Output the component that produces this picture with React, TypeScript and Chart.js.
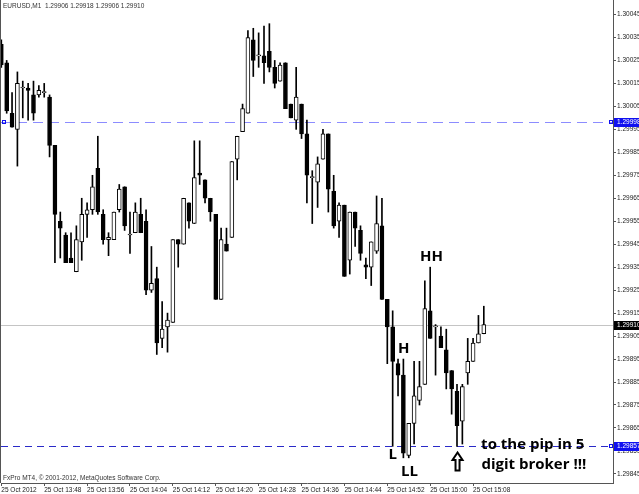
import React, { useEffect, useRef } from 'react';
import { Chart, registerables } from 'chart.js';

Chart.register(...registerables);

// EURUSD M1 candles, 25 Oct 2012 13:40 ... 15:10 (one per minute)
const opens = [
  1.30032, 1.30024, 1.30002, 1.29995, 1.30013, 1.30013, 1.30010, 1.30010, 1.30011, 1.30009,
  1.29988, 1.29955, 1.29949, 1.29939, 1.29933, 1.29946, 1.29958, 1.29960, 1.29978, 1.29958,
  1.29947, 1.29947, 1.29960, 1.29970, 1.29949, 1.29950, 1.29958, 1.29955, 1.29925, 1.29930,
  1.29904, 1.29909, 1.29911, 1.29947, 1.29945, 1.29963, 1.29954, 1.29976, 1.29973, 1.29965,
  1.29958, 1.29921, 1.29945, 1.29948, 1.29982, 1.29994, 1.30002, 1.30034, 1.30027, 1.30027,
  1.30029, 1.30022, 1.30016, 1.30024, 1.30006, 1.29999, 1.30006, 1.29993, 1.29974, 1.29972,
  1.29982, 1.29993, 1.29968, 1.29955, 1.29962, 1.29938, 1.29959, 1.29951, 1.29936, 1.29935,
  1.29942, 1.29953, 1.29921, 1.29909, 1.29893, 1.29888, 1.29853, 1.29867, 1.29877, 1.29884,
  1.29916, 1.29909, 1.29905, 1.29899, 1.29890, 1.29881, 1.29868, 1.29889, 1.29894, 1.29902,
  1.29906,
];
const highs = [
  1.30034, 1.30025, 1.30011, 1.30020, 1.30016, 1.30015, 1.30016, 1.30014, 1.30015, 1.30010,
  1.29988, 1.29959, 1.29950, 1.29950, 1.29953, 1.29965, 1.29963, 1.29975, 1.29992, 1.29960,
  1.29950, 1.29959, 1.29971, 1.29970, 1.29959, 1.29963, 1.29965, 1.29960, 1.29944, 1.29935,
  1.29920, 1.29915, 1.29947, 1.29947, 1.29965, 1.29963, 1.29990, 1.29990, 1.29973, 1.29965,
  1.29958, 1.29952, 1.29952, 1.29981, 1.29992, 1.30006, 1.30038, 1.30039, 1.30037, 1.30040,
  1.30041, 1.30025, 1.30024, 1.30024, 1.30006, 1.30022, 1.30006, 1.29999, 1.29977, 1.29983,
  1.29995, 1.29993, 1.29975, 1.29963, 1.29962, 1.29959, 1.29959, 1.29953, 1.29939, 1.29946,
  1.29966, 1.29965, 1.29921, 1.29916, 1.29895, 1.29895, 1.29867, 1.29894, 1.29894, 1.29929,
  1.29935, 1.29910, 1.29909, 1.29908, 1.29890, 1.29884, 1.29884, 1.29904, 1.29904, 1.29914,
  1.29918,
];
const lows = [
  1.30022, 1.30002, 1.29996, 1.29979, 1.30000, 1.29999, 1.29999, 1.30009, 1.30009, 1.29983,
  1.29937, 1.29939, 1.29937, 1.29937, 1.29933, 1.29938, 1.29948, 1.29958, 1.29958, 1.29945,
  1.29940, 1.29947, 1.29959, 1.29951, 1.29941, 1.29950, 1.29950, 1.29923, 1.29924, 1.29897,
  1.29900, 1.29898, 1.29911, 1.29935, 1.29945, 1.29952, 1.29954, 1.29971, 1.29963, 1.29955,
  1.29921, 1.29921, 1.29942, 1.29948, 1.29973, 1.29994, 1.30002, 1.30018, 1.30022, 1.30015,
  1.30020, 1.30013, 1.30016, 1.30004, 1.30000, 1.29995, 1.29991, 1.29963, 1.29954, 1.29961,
  1.29982, 1.29959, 1.29952, 1.29948, 1.29931, 1.29932, 1.29944, 1.29938, 1.29930, 1.29927,
  1.29941, 1.29921, 1.29893, 1.29857, 1.29879, 1.29852, 1.29852, 1.29858, 1.29875, 1.29884,
  1.29904, 1.29888, 1.29900, 1.29882, 1.29871, 1.29857, 1.29858, 1.29884, 1.29894, 1.29902,
  1.29906,
];
const closes = [
  1.30023, 1.30003, 1.29996, 1.30015, 1.30013, 1.30012, 1.30002, 1.30012, 1.30011, 1.29988,
  1.29958, 1.29952, 1.29937, 1.29937, 1.29947, 1.29958, 1.29960, 1.29970, 1.29959, 1.29947,
  1.29948, 1.29959, 1.29969, 1.29953, 1.29949, 1.29959, 1.29950, 1.29925, 1.29928, 1.29902,
  1.29908, 1.29912, 1.29947, 1.29945, 1.29965, 1.29955, 1.29974, 1.29975, 1.29965, 1.29959,
  1.29921, 1.29947, 1.29942, 1.29981, 1.29992, 1.30004, 1.30035, 1.30025, 1.30027, 1.30024,
  1.30022, 1.30015, 1.30023, 1.30004, 1.30000, 1.30009, 1.29993, 1.29975, 1.29974, 1.29980,
  1.29993, 1.29969, 1.29953, 1.29962, 1.29931, 1.29959, 1.29952, 1.29941, 1.29935, 1.29946,
  1.29954, 1.29921, 1.29909, 1.29894, 1.29888, 1.29854, 1.29867, 1.29879, 1.29883, 1.29917,
  1.29904, 1.29909, 1.29900, 1.29889, 1.29882, 1.29866, 1.29883, 1.29894, 1.29902, 1.29906,
  1.29910,
];

const xTickIdx = [0, 8, 16, 24, 32, 40, 48, 56, 64, 72, 80, 88];
const xTickLabels = [
  '25 Oct 2012', '25 Oct 13:48', '25 Oct 13:56', '25 Oct 14:04', '25 Oct 14:12', '25 Oct 14:20',
  '25 Oct 14:28', '25 Oct 14:36', '25 Oct 14:44', '25 Oct 14:52', '25 Oct 15:00', '25 Oct 15:08',
];
const yTicks = [
  1.29845, 1.29855, 1.29865, 1.29875, 1.29885, 1.29895, 1.29905, 1.29915, 1.29925, 1.29935, 1.29945,
  1.29955, 1.29965, 1.29975, 1.29985, 1.29995, 1.30005, 1.30015, 1.30025, 1.30035, 1.30045,
];

const X_MIN = -0.06;
const X_MAX = 114.1;
const Y_MIN = 1.2984104;
const Y_MAX = 1.3005131;

const titleText = 'EURUSD,M1  1.29906 1.29918 1.29906 1.29910';
const copyrightText = 'FxPro MT4, \u00A9 2001-2012, MetaQuotes Software Corp.';

const hLines = [
  { price: 1.29998, color: '#8c8cff', dash: [10, 6], box: '#1010f0', leftMark: true },
  { price: 1.2991, color: '#c4c4c4', dash: [], box: '#000000', leftMark: false },
  { price: 1.29857, color: '#2a2ac8', dash: [7, 5], box: '#1010f0', leftMark: false },
];

const notes = [
  { text: 'HH', idx: 80.26, price: 1.299394, align: 'center' },
  { text: 'H', idx: 75.07, price: 1.298995, align: 'center' },
  { text: 'L', idx: 72.99, price: 1.298534, align: 'center' },
  { text: 'LL', idx: 76.12, price: 1.298458, align: 'center' },
  { text: 'to the pip in 5', idx: 89.5, price: 1.298576, align: 'left' },
  { text: 'digit broker !!!', idx: 89.55, price: 1.298489, align: 'left' },
];
const arrowTip = { idx: 85.1, price: 1.298543 };

const overlay = {
  id: 'overlay',
  beforeDatasetsDraw(chart: any) {
    const { ctx, chartArea: a, scales } = chart;
    const y = scales.y;
    ctx.save();
    hLines.forEach((l) => {
      const py = Math.round(y.getPixelForValue(l.price)) + 0.5;
      ctx.strokeStyle = l.color;
      ctx.lineWidth = 1;
      ctx.setLineDash(l.dash);
      ctx.beginPath();
      ctx.moveTo(a.left, py);
      ctx.lineTo(a.right, py);
      ctx.stroke();
    });
    ctx.restore();
  },
  afterDraw(chart: any) {
    const { ctx, chartArea: a, scales, width } = chart;
    const x = scales.x;
    const y = scales.y;
    ctx.save();
    // left frame
    ctx.strokeStyle = '#555';
    ctx.lineWidth = 1;
    ctx.beginPath();
    ctx.moveTo(0.5, 0);
    ctx.lineTo(0.5, a.bottom);
    ctx.stroke();

    // price boxes on the axis + small markers
    hLines.forEach((l) => {
      const py = Math.round(y.getPixelForValue(l.price));
      ctx.fillStyle = l.box;
      ctx.fillRect(a.right + 1, py - 4, width - a.right - 1, 9);
      ctx.fillStyle = '#fff';
      ctx.font = '6.5px "Liberation Sans"';
      ctx.textBaseline = 'middle';
      ctx.textAlign = 'left';
      ctx.fillText(l.price.toFixed(5), a.right + 4, py + 0.5);
      if (l.box !== '#000000') {
        ctx.strokeStyle = l.box;
        ctx.lineWidth = 1;
        ctx.strokeRect(a.right - 3.5, py - 1.5, 3, 3);
        if (l.leftMark) ctx.strokeRect(2.5, py - 1.5, 3, 3);
      }
    });

    // title & copyright
    ctx.fillStyle = '#333';
    ctx.font = '6.5px "Liberation Sans"';
    ctx.textAlign = 'left';
    ctx.textBaseline = 'middle';
    ctx.fillText(titleText, 3, 6);
    ctx.fillText(copyrightText, 3, 478);

    // annotations
    ctx.fillStyle = '#000';
    ctx.font = 'bold 15px "Open Sans"';
    notes.forEach((n) => {
      ctx.textAlign = n.align as CanvasTextAlign;
      ctx.textBaseline = 'middle';
      ctx.fillText(n.text, x.getPixelForValue(n.idx), y.getPixelForValue(n.price));
    });

    // hollow up arrow
    const tx = x.getPixelForValue(arrowTip.idx);
    const ty = y.getPixelForValue(arrowTip.price);
    ctx.strokeStyle = '#000';
    ctx.lineWidth = 2;
    ctx.lineJoin = 'miter';
    ctx.beginPath();
    ctx.moveTo(tx, ty);
    ctx.lineTo(tx + 5, ty + 7.5);
    ctx.lineTo(tx + 2, ty + 7.5);
    ctx.lineTo(tx + 2, ty + 18);
    ctx.lineTo(tx - 2, ty + 18);
    ctx.lineTo(tx - 2, ty + 7.5);
    ctx.lineTo(tx - 5, ty + 7.5);
    ctx.closePath();
    ctx.stroke();
    ctx.restore();
  },
};

export default function App() {
  const ref = useRef<HTMLCanvasElement | null>(null);

  useEffect(() => {
    if (!ref.current) return;
    const smallFont = { family: 'Liberation Sans', size: 6.5 };
    const chart = new Chart(ref.current, {
      type: 'bar',
      data: {
        datasets: [
          {
            label: 'body',
            data: opens.map((o, i) => ({ x: i, y: [o, closes[i]] })) as any,
            backgroundColor: opens.map((o, i) => (closes[i] < o ? '#000000' : '#ffffff')),
            borderColor: '#000000',
            borderWidth: 1,
            borderSkipped: false,
            barThickness: 4,
            minBarLength: 1,
            grouped: false,
            order: 0,
          } as any,
          {
            label: 'wick',
            data: lows.map((l, i) => ({ x: i, y: [l, highs[i]] })) as any,
            backgroundColor: '#000000',
            borderWidth: 0,
            barThickness: 1,
            grouped: false,
            order: 1,
          } as any,
        ],
      },
      options: {
        animation: false,
        responsive: false,
        layout: { padding: { left: 1, top: 0, right: 0, bottom: 0 } },
        plugins: { legend: { display: false }, tooltip: { enabled: false } },
        scales: {
          x: {
            type: 'linear',
            min: X_MIN,
            max: X_MAX,
            offset: false,
            grid: { drawOnChartArea: false, drawTicks: true, tickLength: 3, color: '#555', offset: false },
            border: { color: '#555' },
            ticks: {
              autoSkip: false,
              maxRotation: 0,
              minRotation: 0,
              align: 'start',
              padding: 0,
              color: '#222',
              font: smallFont,
              callback: (_v: any, i: number) => xTickLabels[i],
            },
            afterBuildTicks: (ax: any) => {
              ax.ticks = xTickIdx.map((v) => ({ value: v }));
            },
            afterFit: (ax: any) => {
              ax.height = 11;
              ax.paddingLeft = 0;
              ax.paddingRight = 0;
            },
          },
          y: {
            type: 'linear',
            position: 'right',
            min: Y_MIN,
            max: Y_MAX,
            grid: { drawOnChartArea: false, drawTicks: true, tickLength: 3, color: '#555' },
            border: { color: '#555' },
            ticks: {
              padding: 1,
              color: '#222',
              font: smallFont,
              callback: (_v: any, i: number) => yTicks[i].toFixed(5),
            },
            afterBuildTicks: (ax: any) => {
              ax.ticks = yTicks.map((v) => ({ value: v }));
            },
            afterFit: (ax: any) => {
              ax.width = 26;
              ax.paddingTop = 0;
              ax.paddingBottom = 0;
            },
          },
        },
      } as any,
      plugins: [overlay],
    });
    return () => chart.destroy();
  }, []);

  return (
    <div style={{ position: 'fixed', left: 0, top: 0, width: 639, height: 494, background: '#fff' }}>
      <canvas ref={ref} width={639} height={494} style={{ display: 'block' }} />
    </div>
  );
}
